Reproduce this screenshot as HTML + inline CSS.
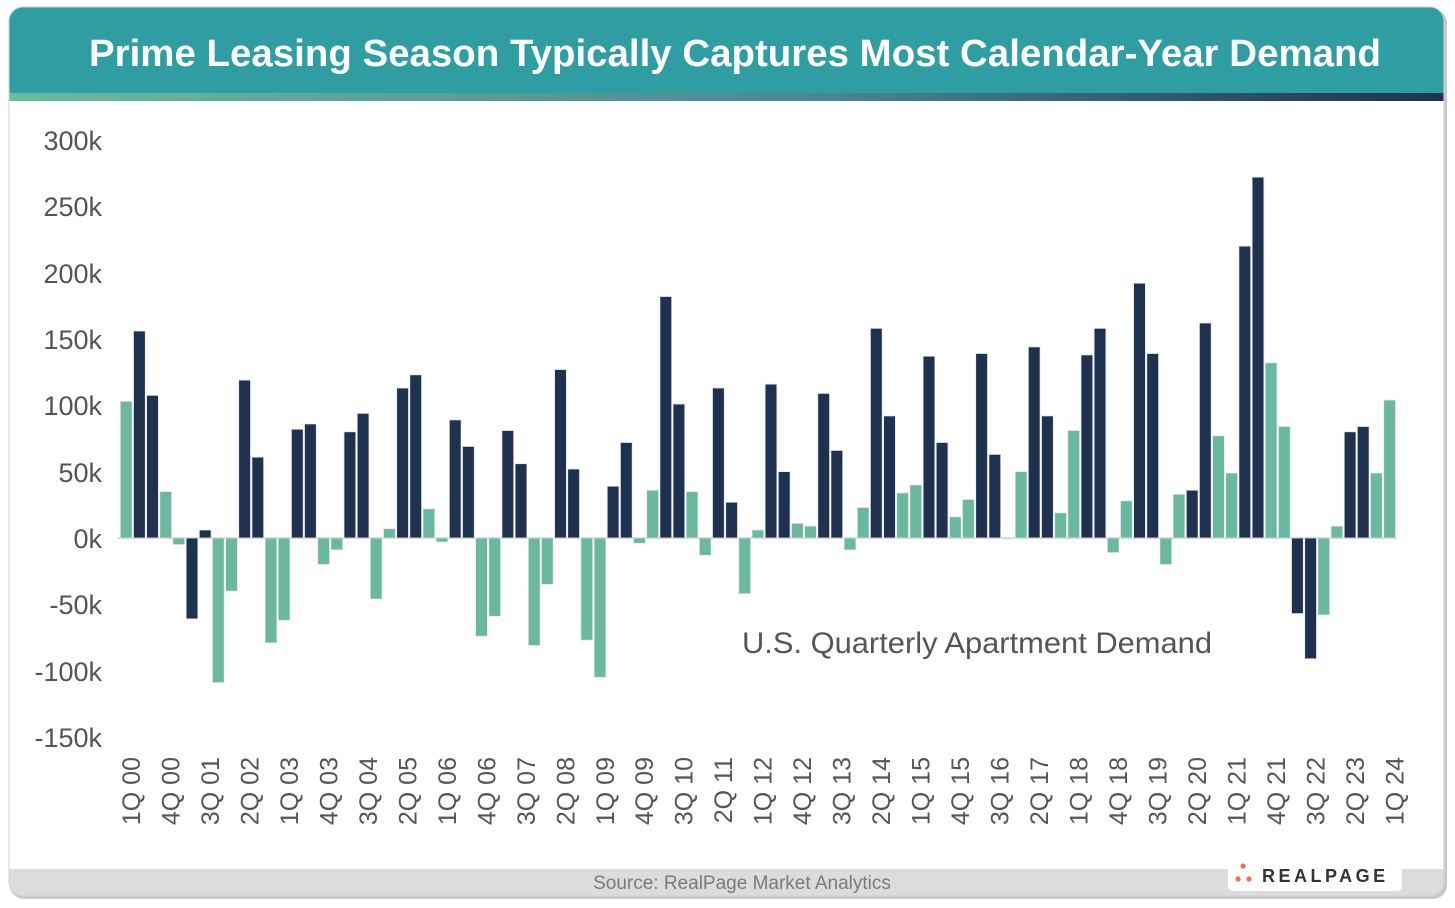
<!DOCTYPE html>
<html><head><meta charset="utf-8"><style>
html,body{margin:0;padding:0;background:#fff;}
body{width:1455px;height:903px;overflow:hidden;font-family:"Liberation Sans",sans-serif;}
.g{fill:#6bb8a0}.d{fill:#1e3250}
</style></head><body>
<svg width="1455" height="903" viewBox="0 0 1455 903" xmlns="http://www.w3.org/2000/svg" font-family="Liberation Sans, sans-serif">
<defs>
<linearGradient id="stripe" x1="0" x2="1" y1="0" y2="0">
<stop offset="0" stop-color="#6bb9a0"/><stop offset="0.55" stop-color="#4a8a90"/><stop offset="1" stop-color="#1e3350"/>
</linearGradient>
<clipPath id="card"><rect x="9" y="7" width="1435" height="889" rx="14"/></clipPath>
</defs>
<rect x="10" y="9" width="1437" height="890" rx="14" fill="#c8c8c8"/>
<g clip-path="url(#card)">
<rect x="9" y="7" width="1435" height="889" fill="#fff"/>
<rect x="9" y="7" width="1435" height="87" fill="#2e9ea3"/>
<rect x="9" y="93" width="1435" height="8" fill="url(#stripe)"/>
<rect x="9" y="869" width="1435" height="27" fill="#dcdcde"/>
</g>
<rect x="9" y="7" width="1435" height="889" rx="14" fill="none" stroke="#d0d0d0" stroke-width="1"/>
<text x="735" y="66" text-anchor="middle" fill="#fff" font-size="38" font-weight="bold" textLength="1292" lengthAdjust="spacingAndGlyphs">Prime Leasing Season Typically Captures Most Calendar-Year Demand</text>
<g fill="#555" font-size="27" text-anchor="end">
<text x="102" y="150">300k</text><text x="102" y="216">250k</text><text x="102" y="283">200k</text>
<text x="102" y="349">150k</text><text x="102" y="415">100k</text><text x="102" y="482">50k</text>
<text x="102" y="548">0k</text><text x="102" y="614">-50k</text><text x="102" y="681">-100k</text>
<text x="102" y="747">-150k</text>
</g>
<line x1="118" y1="538" x2="1397" y2="538" stroke="#d4d4d4" stroke-width="2"/>
<g stroke="#e8e8ee" stroke-width="0.8">
<rect class="g" x="120.3" y="401.3" width="11.8" height="136.7"/>
<rect class="d" x="133.5" y="331" width="11.8" height="207"/>
<rect class="d" x="146.6" y="395.3" width="11.8" height="142.7"/>
<rect class="g" x="159.8" y="491.6" width="11.8" height="46.4"/>
<rect class="g" x="172.9" y="538" width="11.8" height="6.6"/>
<rect class="d" x="186.1" y="538" width="11.8" height="80.9"/>
<rect class="d" x="199.3" y="530" width="11.8" height="8"/>
<rect class="g" x="212.4" y="538" width="11.8" height="144.6"/>
<rect class="g" x="225.6" y="538" width="11.8" height="53.1"/>
<rect class="d" x="238.7" y="380.1" width="11.8" height="157.9"/>
<rect class="d" x="251.9" y="457.1" width="11.8" height="80.9"/>
<rect class="g" x="265.1" y="538" width="11.8" height="104.8"/>
<rect class="g" x="278.2" y="538" width="11.8" height="82.3"/>
<rect class="d" x="291.4" y="429.2" width="11.8" height="108.8"/>
<rect class="d" x="304.5" y="423.9" width="11.8" height="114.1"/>
<rect class="g" x="317.7" y="538" width="11.8" height="26.5"/>
<rect class="g" x="330.9" y="538" width="11.8" height="11.9"/>
<rect class="d" x="344" y="431.8" width="11.8" height="106.2"/>
<rect class="d" x="357.2" y="413.3" width="11.8" height="124.7"/>
<rect class="g" x="370.3" y="538" width="11.8" height="61"/>
<rect class="g" x="383.5" y="528.7" width="11.8" height="9.3"/>
<rect class="d" x="396.7" y="388" width="11.8" height="150"/>
<rect class="d" x="409.8" y="374.8" width="11.8" height="163.2"/>
<rect class="g" x="423" y="508.8" width="11.8" height="29.2"/>
<rect class="g" x="436.1" y="538" width="11.8" height="4"/>
<rect class="d" x="449.3" y="419.9" width="11.8" height="118.1"/>
<rect class="d" x="462.5" y="446.4" width="11.8" height="91.6"/>
<rect class="g" x="475.6" y="538" width="11.8" height="98.2"/>
<rect class="g" x="488.8" y="538" width="11.8" height="78.3"/>
<rect class="d" x="501.9" y="430.5" width="11.8" height="107.5"/>
<rect class="d" x="515.1" y="463.7" width="11.8" height="74.3"/>
<rect class="g" x="528.3" y="538" width="11.8" height="107.5"/>
<rect class="g" x="541.4" y="538" width="11.8" height="46.4"/>
<rect class="d" x="554.6" y="369.5" width="11.8" height="168.5"/>
<rect class="d" x="567.7" y="469" width="11.8" height="69"/>
<rect class="g" x="580.9" y="538" width="11.8" height="102.2"/>
<rect class="g" x="594.1" y="538" width="11.8" height="139.3"/>
<rect class="d" x="607.2" y="486.2" width="11.8" height="51.8"/>
<rect class="d" x="620.4" y="442.5" width="11.8" height="95.5"/>
<rect class="g" x="633.5" y="538" width="11.8" height="5.3"/>
<rect class="g" x="646.7" y="490.2" width="11.8" height="47.8"/>
<rect class="d" x="659.9" y="296.5" width="11.8" height="241.5"/>
<rect class="d" x="673" y="404" width="11.8" height="134"/>
<rect class="g" x="686.2" y="491.6" width="11.8" height="46.4"/>
<rect class="g" x="699.3" y="538" width="11.8" height="17.3"/>
<rect class="d" x="712.5" y="388" width="11.8" height="150"/>
<rect class="d" x="725.7" y="502.2" width="11.8" height="35.8"/>
<rect class="g" x="738.8" y="538" width="11.8" height="55.7"/>
<rect class="g" x="752" y="530" width="11.8" height="8"/>
<rect class="d" x="765.1" y="384.1" width="11.8" height="153.9"/>
<rect class="d" x="778.3" y="471.6" width="11.8" height="66.4"/>
<rect class="g" x="791.5" y="523.4" width="11.8" height="14.6"/>
<rect class="g" x="804.6" y="526.1" width="11.8" height="11.9"/>
<rect class="d" x="817.8" y="393.4" width="11.8" height="144.6"/>
<rect class="d" x="830.9" y="450.4" width="11.8" height="87.6"/>
<rect class="g" x="844.1" y="538" width="11.8" height="11.9"/>
<rect class="g" x="857.3" y="507.5" width="11.8" height="30.5"/>
<rect class="d" x="870.4" y="328.3" width="11.8" height="209.7"/>
<rect class="d" x="883.6" y="415.9" width="11.8" height="122.1"/>
<rect class="g" x="896.7" y="492.9" width="11.8" height="45.1"/>
<rect class="g" x="909.9" y="484.9" width="11.8" height="53.1"/>
<rect class="d" x="923.1" y="356.2" width="11.8" height="181.8"/>
<rect class="d" x="936.2" y="442.5" width="11.8" height="95.5"/>
<rect class="g" x="949.4" y="516.8" width="11.8" height="21.2"/>
<rect class="g" x="962.5" y="499.5" width="11.8" height="38.5"/>
<rect class="d" x="975.7" y="353.5" width="11.8" height="184.5"/>
<rect class="d" x="988.9" y="454.4" width="11.8" height="83.6"/>
<rect class="g" x="1002" y="538" width="11.8" height="1"/>
<rect class="g" x="1015.2" y="471.6" width="11.8" height="66.4"/>
<rect class="d" x="1028.3" y="346.9" width="11.8" height="191.1"/>
<rect class="d" x="1041.5" y="415.9" width="11.8" height="122.1"/>
<rect class="g" x="1054.7" y="512.8" width="11.8" height="25.2"/>
<rect class="g" x="1067.8" y="430.5" width="11.8" height="107.5"/>
<rect class="d" x="1081" y="354.9" width="11.8" height="183.1"/>
<rect class="d" x="1094.1" y="328.3" width="11.8" height="209.7"/>
<rect class="g" x="1107.3" y="538" width="11.8" height="14.6"/>
<rect class="g" x="1120.5" y="500.8" width="11.8" height="37.2"/>
<rect class="d" x="1133.6" y="283.2" width="11.8" height="254.8"/>
<rect class="d" x="1146.8" y="353.5" width="11.8" height="184.5"/>
<rect class="g" x="1159.9" y="538" width="11.8" height="26.5"/>
<rect class="g" x="1173.1" y="494.2" width="11.8" height="43.8"/>
<rect class="d" x="1186.3" y="490.2" width="11.8" height="47.8"/>
<rect class="d" x="1199.4" y="323" width="11.8" height="215"/>
<rect class="g" x="1212.6" y="435.8" width="11.8" height="102.2"/>
<rect class="g" x="1225.7" y="473" width="11.8" height="65"/>
<rect class="d" x="1238.9" y="246.1" width="11.8" height="291.9"/>
<rect class="d" x="1252.1" y="177.1" width="11.8" height="360.9"/>
<rect class="g" x="1265.2" y="362.8" width="11.8" height="175.2"/>
<rect class="g" x="1278.4" y="426.5" width="11.8" height="111.5"/>
<rect class="d" x="1291.5" y="538" width="11.8" height="75.6"/>
<rect class="d" x="1304.7" y="538" width="11.8" height="120.8"/>
<rect class="g" x="1317.9" y="538" width="11.8" height="77"/>
<rect class="g" x="1331" y="526.1" width="11.8" height="11.9"/>
<rect class="d" x="1344.2" y="431.8" width="11.8" height="106.2"/>
<rect class="d" x="1357.3" y="426.5" width="11.8" height="111.5"/>
<rect class="g" x="1370.5" y="473" width="11.8" height="65"/>
<rect class="g" x="1383.7" y="400" width="11.8" height="138"/>
</g>
<g fill="#555" font-size="25" text-anchor="end">
<text transform="translate(140,757) rotate(-90)">1Q 00</text>
<text transform="translate(179.5,757) rotate(-90)">4Q 00</text>
<text transform="translate(219,757) rotate(-90)">3Q 01</text>
<text transform="translate(258.4,757) rotate(-90)">2Q 02</text>
<text transform="translate(297.9,757) rotate(-90)">1Q 03</text>
<text transform="translate(337.4,757) rotate(-90)">4Q 03</text>
<text transform="translate(376.9,757) rotate(-90)">3Q 04</text>
<text transform="translate(416.4,757) rotate(-90)">2Q 05</text>
<text transform="translate(455.8,757) rotate(-90)">1Q 06</text>
<text transform="translate(495.3,757) rotate(-90)">4Q 06</text>
<text transform="translate(534.8,757) rotate(-90)">3Q 07</text>
<text transform="translate(574.3,757) rotate(-90)">2Q 08</text>
<text transform="translate(613.8,757) rotate(-90)">1Q 09</text>
<text transform="translate(653.2,757) rotate(-90)">4Q 09</text>
<text transform="translate(692.7,757) rotate(-90)">3Q 10</text>
<text transform="translate(732.2,757) rotate(-90)">2Q 11</text>
<text transform="translate(771.7,757) rotate(-90)">1Q 12</text>
<text transform="translate(811.2,757) rotate(-90)">4Q 12</text>
<text transform="translate(850.6,757) rotate(-90)">3Q 13</text>
<text transform="translate(890.1,757) rotate(-90)">2Q 14</text>
<text transform="translate(929.6,757) rotate(-90)">1Q 15</text>
<text transform="translate(969.1,757) rotate(-90)">4Q 15</text>
<text transform="translate(1008.6,757) rotate(-90)">3Q 16</text>
<text transform="translate(1048,757) rotate(-90)">2Q 17</text>
<text transform="translate(1087.5,757) rotate(-90)">1Q 18</text>
<text transform="translate(1127,757) rotate(-90)">4Q 18</text>
<text transform="translate(1166.5,757) rotate(-90)">3Q 19</text>
<text transform="translate(1206,757) rotate(-90)">2Q 20</text>
<text transform="translate(1245.4,757) rotate(-90)">1Q 21</text>
<text transform="translate(1284.9,757) rotate(-90)">4Q 21</text>
<text transform="translate(1324.4,757) rotate(-90)">3Q 22</text>
<text transform="translate(1363.9,757) rotate(-90)">2Q 23</text>
<text transform="translate(1403.4,757) rotate(-90)">1Q 24</text>
</g>
<text x="742" y="653" fill="#555" font-size="30" textLength="470" lengthAdjust="spacingAndGlyphs">U.S. Quarterly Apartment Demand</text>
<text x="742" y="889" text-anchor="middle" fill="#7a7a7a" font-size="19">Source: RealPage Market Analytics</text>
<rect x="1228" y="861" width="174" height="30" rx="5" fill="#fff"/>
<circle cx="1243" cy="866" r="2.6" fill="#e8734f"/><circle cx="1238" cy="879" r="2.6" fill="#e8734f"/><circle cx="1249" cy="879" r="2.6" fill="#e8734f"/>
<text x="1262" y="882" fill="#333" font-size="18" font-weight="bold" letter-spacing="3.5">REALPAGE</text>
</svg>
</body></html>
